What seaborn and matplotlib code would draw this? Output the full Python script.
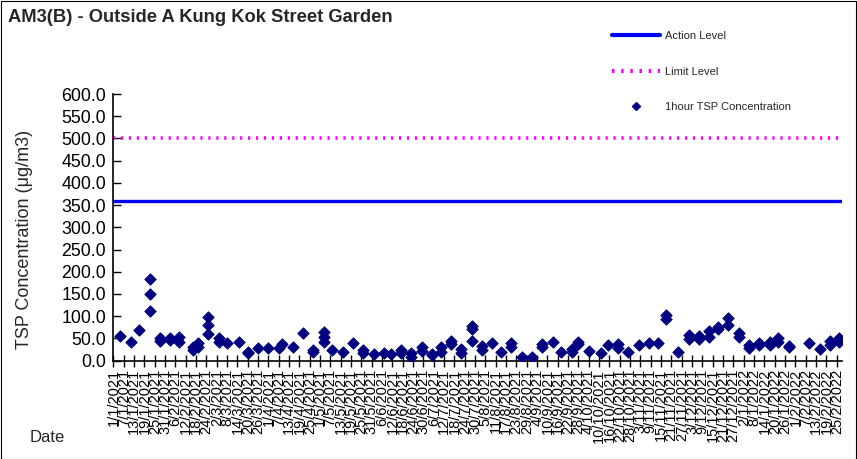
import matplotlib
matplotlib.use("Agg")
import matplotlib.pyplot as plt
import seaborn as sns
import pandas as pd
from matplotlib.lines import Line2D
from matplotlib.patches import Rectangle

# ---- data ----
title = "AM3(B) - Outside A Kung Kok Street Garden"
action_level = 360
limit_level = 500

sample_dates = [
    "2021-01-05", "2021-01-11", "2021-01-16",
    "2021-01-22", "2021-01-22", "2021-01-22",
    "2021-01-28", "2021-01-28", "2021-02-03", "2021-02-03",
    "2021-02-08", "2021-02-08", "2021-02-16", "2021-02-16",
    "2021-02-19", "2021-02-19",
    "2021-02-25", "2021-02-25", "2021-02-25",
    "2021-03-03", "2021-03-03", "2021-03-08", "2021-03-15",
    "2021-03-20", "2021-03-20", "2021-03-26", "2021-04-01",
    "2021-04-07", "2021-04-09", "2021-04-15", "2021-04-21",
    "2021-04-27", "2021-04-27",
    "2021-05-03", "2021-05-03", "2021-05-03",
    "2021-05-08", "2021-05-14", "2021-05-20",
    "2021-05-26", "2021-05-26", "2021-06-01", "2021-06-07", "2021-06-11",
    "2021-06-17", "2021-06-17", "2021-06-23", "2021-06-23",
    "2021-06-29", "2021-06-29", "2021-07-05", "2021-07-05",
    "2021-07-10", "2021-07-10", "2021-07-16", "2021-07-16",
    "2021-07-22", "2021-07-22",
    "2021-07-28", "2021-07-28", "2021-07-28",
    "2021-08-03", "2021-08-03", "2021-08-09", "2021-08-14",
    "2021-08-20", "2021-08-20", "2021-08-26", "2021-09-01",
    "2021-09-07", "2021-09-07", "2021-09-13", "2021-09-18",
    "2021-09-24", "2021-09-24", "2021-09-28", "2021-09-28",
    "2021-10-04", "2021-10-11", "2021-10-15",
    "2021-10-21", "2021-10-21", "2021-10-27", "2021-11-02",
    "2021-11-08", "2021-11-13", "2021-11-18", "2021-11-18",
    "2021-11-25", "2021-12-01", "2021-12-01",
    "2021-12-07", "2021-12-07", "2021-12-13", "2021-12-13",
    "2021-12-18", "2021-12-18", "2021-12-24", "2021-12-24",
    "2021-12-30", "2021-12-30", "2022-01-05", "2022-01-05",
    "2022-01-11", "2022-01-11", "2022-01-17", "2022-01-17",
    "2022-01-22", "2022-01-22", "2022-01-28", "2022-01-28",
    "2022-02-09", "2022-02-15", "2022-02-21", "2022-02-21",
    "2022-02-26", "2022-02-26",
]
tsp_values = [
    55, 42, 68,
    183, 150, 111,
    51, 44, 51, 46,
    54, 42, 30, 24,
    40, 30,
    98, 80, 60,
    51, 42, 40, 42,
    16, 19, 29, 28,
    28, 38, 30, 63,
    24, 20,
    65, 52, 42,
    24, 20, 39,
    24, 18, 14, 16, 15,
    24, 16, 16, 9,
    30, 22, 15, 12,
    30, 20, 43, 37,
    27, 16,
    78, 71, 45,
    33, 24, 40, 20,
    39, 30, 9, 7,
    37, 30, 42, 19,
    27, 20, 42, 38,
    22, 16, 35,
    37, 28, 19, 35,
    39, 40, 102, 93,
    19, 57, 48,
    55, 48, 67, 54,
    76, 71, 95, 80,
    61, 54, 35, 28,
    40, 35, 42, 35,
    50, 41, 30, 33,
    39, 25, 45, 35,
    50, 42,
]
y_ticks = [0, 50, 100, 150, 200, 250, 300, 350, 400, 450, 500, 550, 600]
x_start = "2021-01-01"
x_last_tick = "2022-02-25"
x_end = "2022-02-28"
legend_labels = ["Action Level", "Limit Level", "1hour TSP Concentration"]

df = pd.DataFrame({"Date": pd.to_datetime(sample_dates), "TSP": tsp_values})

# ---- style ----
sns.set_style("ticks")
plt.rcParams["font.family"] = ["Liberation Sans", "DejaVu Sans"]

W, H = 857, 459
fig = plt.figure(figsize=(W / 100, H / 100), dpi=100)
ax = fig.add_axes([113.5 / W, 1 - 360.6 / H, (842 - 113.5) / W, (360.6 - 94) / H])

ax.axhline(action_level, color="#0000FF", lw=2.4, zorder=2)
ax.axhline(limit_level, color="#FF00FF", lw=2.6, ls=(0, (0.6, 1.6)), zorder=2)
sns.scatterplot(data=df, x="Date", y="TSP", marker="D", s=34, color="#000080",
                edgecolor="#000080", linewidth=0.6, ax=ax, zorder=3, legend=False)

ax.set_ylim(0, 600)
ax.set_yticks(y_ticks)
ax.set_yticklabels([f"{v:.1f}" for v in y_ticks], fontsize=12.8)
ax.set_xlim(pd.Timestamp(x_start), pd.Timestamp(x_end))
xt = pd.date_range(x_start, x_last_tick, freq="6D")
ax.set_xticks(xt)
ax.set_xticklabels([f"{d.day}/{d.month}/{d.year}" for d in xt], rotation=90, fontsize=10.5)
ax.tick_params(axis="y", direction="in", length=6, width=1, pad=5.3, colors="black")
ax.tick_params(axis="x", direction="inout", length=8, width=1, pad=2, colors="black")
ax.set_xlabel("")
ax.set_ylabel("TSP Concentration (\u03bcg/m3)", fontsize=13, labelpad=6)
ax.yaxis.set_label_coords(-(113.5 - 33) / (842 - 113.5), (360.6 - 239) / (360.6 - 94))
for s in ["top", "right"]:
    ax.spines[s].set_visible(False)
for s in ["left", "bottom"]:
    ax.spines[s].set_color("black")
    ax.spines[s].set_linewidth(1.2)

fig.text(8 / W, 1 - 18 / H, title, fontsize=13.2, fontweight="bold", va="center", ha="left")
fig.text(30 / W, 1 - 437 / H, "Date", fontsize=12, va="center", ha="left")

handles = [
    Line2D([], [], color="#0000FF", lw=3),
    Line2D([], [], color="#FF00FF", lw=3, ls=(0, (0.6, 1.6))),
    Line2D([], [], color="#000080", marker="D", markersize=4, ls="none"),
]
fig.legend(handles, legend_labels, loc="upper left",
           bbox_to_anchor=(612 / W, 1 - 31 / H), frameon=False, fontsize=8,
           handlelength=4.3, handletextpad=0.5, labelspacing=2.3,
           borderpad=0, borderaxespad=0)

fig.add_artist(Rectangle((0.5 / W, 0.5 / H), 1 - 1.5 / W, 1 - 1.5 / H,
                         transform=fig.transFigure, fill=False, ec="black", lw=0.8))

fig.savefig("out.png", dpi=100)
